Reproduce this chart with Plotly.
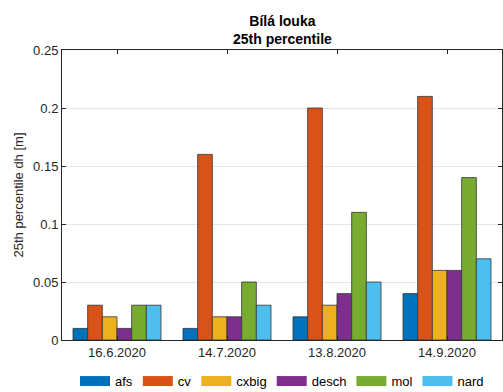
import plotly.graph_objects as go

categories = ["16.6.2020", "14.7.2020", "13.8.2020", "14.9.2020"]
series_names = ["afs", "cv", "cxbig", "desch", "mol", "nard"]
afs = [0.01, 0.01, 0.02, 0.04]
cv = [0.03, 0.16, 0.20, 0.21]
cxbig = [0.02, 0.02, 0.03, 0.06]
desch = [0.01, 0.02, 0.04, 0.06]
mol = [0.03, 0.05, 0.11, 0.14]
nard = [0.03, 0.03, 0.05, 0.07]
values = [afs, cv, cxbig, desch, mol, nard]
colors = ["#0072BD", "#D95319", "#EDB120", "#7E2F8E", "#77AC30", "#4DBEEE"]
ytick_vals = [0, 0.05, 0.1, 0.15, 0.2, 0.25]
ytick_text = ["0", "0.05", "0.1", "0.15", "0.2", "0.25"]
title_lines = ["Bílá louka", "25th percentile"]

fig = go.Figure()
for name, vals, col in zip(series_names, values, colors):
    fig.add_trace(go.Bar(
        x=categories, y=vals, name=name, showlegend=False,
        marker=dict(color=col, line=dict(color="#333333", width=0.8)),
    ))
# legend-only entries with wide swatches (like MATLAB legend patches)
for name, col in zip(series_names, colors):
    fig.add_trace(go.Scatter(
        x=[None], y=[None], name=name, mode="lines",
        line=dict(color=col, width=11), showlegend=True, hoverinfo="skip",
    ))

font_family = "Liberation Sans, Arial, sans-serif"
fig.update_layout(
    width=503, height=392,
    margin=dict(l=62, r=1, t=50, b=52, autoexpand=False),
    paper_bgcolor="white", plot_bgcolor="white",
    barmode="group", bargap=0.2, bargroupgap=0,
    font=dict(family=font_family, size=13, color="#262626"),
    showlegend=True,
    legend=dict(
        orientation="h", x=0.5, xanchor="center", xref="paper",
        y=-0.09, yanchor="top",
        font=dict(size=13, color="#000000"),
        tracegroupgap=0,
        bgcolor="rgba(0,0,0,0)",
    ),
    xaxis=dict(
        showline=True, linecolor="#262626", linewidth=1, mirror="ticks",
        ticks="inside", ticklen=4, tickcolor="#262626", tickangle=0,
        showgrid=False, tickfont=dict(size=13, color="#262626"),
    ),
    yaxis=dict(
        range=[0, 0.25], tickvals=ytick_vals, ticktext=ytick_text,
        showline=True, linecolor="#262626", linewidth=1, mirror="ticks",
        ticks="inside", ticklen=4, tickcolor="#262626",
        showgrid=True, gridcolor="#E6E6E6", gridwidth=1,
        zeroline=False, tickfont=dict(size=13, color="#262626"),
        title=dict(text="25th percentile dh [m]", font=dict(size=13, color="#262626"), standoff=6),
    ),
    annotations=[dict(
        text="<br>".join("<b>%s</b>" % t for t in title_lines),
        xref="paper", yref="paper", x=0.5, y=1, xanchor="center", yanchor="bottom",
        yshift=1, showarrow=False,
        font=dict(size=14, color="#000000", family=font_family),
    )],
)

fig.write_html("out.html")
